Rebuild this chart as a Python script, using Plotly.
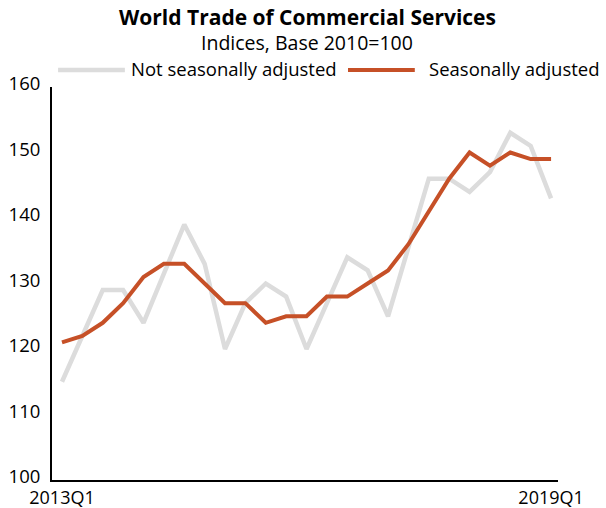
import plotly.graph_objects as go

# Quarterly index values, 2013Q1 .. 2019Q1 (base 2010 = 100)
quarters = [
    "2013Q1", "2013Q2", "2013Q3", "2013Q4",
    "2014Q1", "2014Q2", "2014Q3", "2014Q4",
    "2015Q1", "2015Q2", "2015Q3", "2015Q4",
    "2016Q1", "2016Q2", "2016Q3", "2016Q4",
    "2017Q1", "2017Q2", "2017Q3", "2017Q4",
    "2018Q1", "2018Q2", "2018Q3", "2018Q4",
    "2019Q1",
]
not_seasonally_adjusted = [
    115, 122, 129, 129, 124, 131.5, 139, 133, 120, 127, 130, 128, 120,
    127, 134, 132, 125, 135.5, 146, 146, 144, 147, 153, 151, 143,
]
seasonally_adjusted = [
    121, 122, 124, 127, 131, 133, 133, 130, 127, 127, 124, 125, 125,
    128, 128, 130, 132, 136, 141, 146, 150, 148, 150, 149, 149,
]
tick_labels = ["2013Q1", "2019Q1"]
y_ticks = [100, 110, 120, 130, 140, 150, 160]

GREY = "#dcdcdc"
ORANGE = "#c65027"
FONT = "Open Sans"
TXT = 18.5

x_idx = list(range(len(quarters)))

fig = go.Figure()
fig.add_trace(go.Scatter(
    x=x_idx, y=not_seasonally_adjusted, mode="lines",
    name="Not seasonally adjusted", line=dict(color=GREY, width=4.5),
    showlegend=False,
))
fig.add_trace(go.Scatter(
    x=x_idx, y=seasonally_adjusted, mode="lines",
    name="Seasonally adjusted", line=dict(color=ORANGE, width=4),
    showlegend=False,
))

# Legend drawn as line samples plus labels above the plot
legend_y = 1.043
fig.add_shape(type="line", xref="paper", yref="paper",
              x0=0.012, x1=0.144, y0=legend_y, y1=legend_y,
              line=dict(color=GREY, width=4.5))
fig.add_shape(type="line", xref="paper", yref="paper",
              x0=0.585, x1=0.717, y0=legend_y, y1=legend_y,
              line=dict(color=ORANGE, width=4))
fig.add_annotation(text="Not seasonally adjusted", xref="paper", yref="paper",
                   x=0.152, y=legend_y + 0.004, xanchor="left", yanchor="middle",
                   showarrow=False, font=dict(family=FONT, size=TXT, color="#000"))
fig.add_annotation(text="Seasonally adjusted", xref="paper", yref="paper",
                   x=0.741, y=legend_y + 0.004, xanchor="left", yanchor="middle",
                   showarrow=False, font=dict(family=FONT, size=TXT, color="#000"))

# Title and subtitle
fig.add_annotation(text="<b>World Trade of Commercial Services</b>",
                   xref="paper", yref="paper", x=0.504, y=1.179,
                   xanchor="center", yanchor="middle", showarrow=False,
                   font=dict(family=FONT, size=21, color="#000"))
fig.add_annotation(text="Indices, Base 2010=100",
                   xref="paper", yref="paper", x=0.504, y=1.112,
                   xanchor="center", yanchor="middle", showarrow=False,
                   font=dict(family=FONT, size=19.5, color="#000"))

fig.update_layout(
    width=606, height=508,
    margin=dict(l=52, r=48, t=87, b=28),
    paper_bgcolor="white", plot_bgcolor="white",
    font=dict(family=FONT, size=TXT, color="#000"),
)
fig.update_xaxes(
    range=[-0.49, 24.34], automargin=False,
    tickmode="array", tickvals=[0, 24], ticktext=tick_labels,
    showgrid=False, zeroline=False,
    showline=True, linecolor="#000", linewidth=2,
    ticks="", ticklabelstandoff=0, tickfont=dict(family=FONT, size=18),
)
fig.update_yaxes(
    range=[100, 160], automargin=False,
    tickmode="array", tickvals=y_ticks,
    showgrid=False, zeroline=False,
    showline=True, linecolor="#000", linewidth=2,
    ticks="", ticklabelstandoff=6, ticklabelshift=-3,
    tickfont=dict(family=FONT, size=TXT),
)

fig.write_html("out.html")
